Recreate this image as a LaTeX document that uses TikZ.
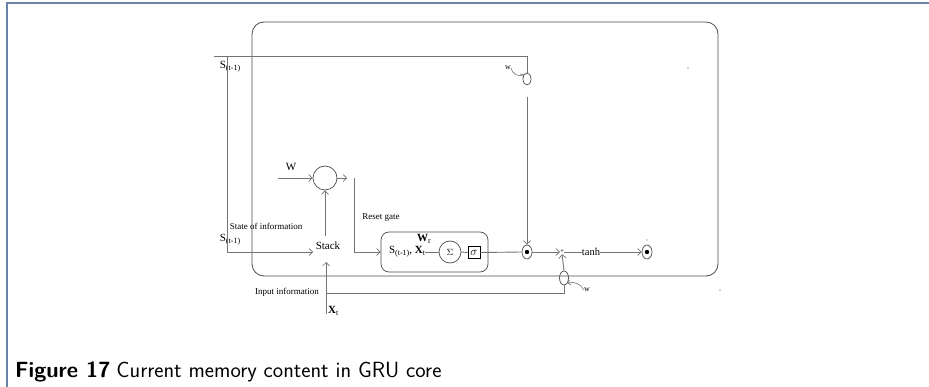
\documentclass[tikz,border=0pt]{standalone}
\usepackage{fontspec}
\setmainfont{Liberation Serif}
\usetikzlibrary{arrows,arrows.meta,shapes.geometric}
\newcommand{\lowsub}[1]{\raisebox{-0.35ex}{\fontsize{8}{9}\selectfont #1}}

\begin{document}
\begin{tikzpicture}[x=1pt,y=-1pt]
\tikzstyle{wire}=[draw=black!55,line width=0.9pt]
\tikzstyle{arr}=[wire,-{Straight Barb[length=3.5pt,width=7pt,line width=0.7pt]}]
\tikzstyle{txt}=[inner sep=0pt,font=\fontsize{9}{10}\selectfont]
\tikzstyle{big}=[inner sep=0pt,font=\fontsize{11}{12}\selectfont]
\tikzstyle{oval}=[ellipse,draw=black!70,line width=0.7pt,inner sep=0pt]
\useasboundingbox (0,0) rectangle (929,387);
% figure frame
\draw[draw={rgb,255:red,105;green,130;blue,165},line width=2pt] (7,387) -- (7,3) -- (929,3);
% GRU core
\draw[draw=black!70,line width=0.8pt,rounded corners=12pt] (252,22) rectangle (718,276);
% nodes
\node[big] (s1) at (230,67) {S\lowsub{(t-1)}};
\node[big] (s2) at (230,240) {S\lowsub{(t-1)}};
\node[txt] (state) at (266,226) {State of information};
\node[big] (stack) at (328,246) {Stack};
\node[circle,draw=black!70,line width=0.7pt,minimum size=24pt,inner sep=0pt] (gate) at (325,178) {};
\node[big] (w0) at (291,167) {W};
\node[txt] (reset) at (381,218) {Reset gate};
\node[draw=black!70,line width=0.7pt,rounded corners=8pt,minimum width=107pt,minimum height=40pt] (box) at (434.5,252) {};
\node[big] (tx) at (407,252) {S\lowsub{(t-1)}, \textbf{X}\lowsub{t}};
\node[big] (wr) at (424,239) {\textbf{W}\lowsub{r}};
\node[circle,draw=black!70,line width=0.7pt,minimum size=22pt,inner sep=0pt,font=\fontsize{9}{10}\selectfont] (sum) at (450,252) {$\Sigma$};
\node[draw=black,line width=0.9pt,minimum size=12pt,inner sep=0pt,font=\fontsize{13}{13}\selectfont] (sig) at (474,252.5) {$\sigma$};
\node[oval,minimum width=10pt,minimum height=14pt] (m1) at (527,252) {};
\node[inner sep=0pt,font=\fontsize{7}{8}\selectfont] (pl) at (562,252) {+};
\node[big,font=\fontsize{10.5}{12}\selectfont] (th) at (591,252) {tanh};
\node[oval,minimum width=10pt,minimum height=14pt] (m2) at (647,252) {};
\node[oval,minimum width=8pt,minimum height=12pt] (e1) at (527,79) {};
\node[txt,font=\fontsize{8}{9}\selectfont] (w1) at (508,68) {w};
\node[oval,minimum width=9pt,minimum height=14pt] (e2) at (564,278) {};
\node[txt,font=\fontsize{8}{9}\selectfont] (w2) at (587,290) {w};
\node[big,anchor=west] (xt) at (328,311) {\textbf{X}\lowsub{t}};
\node[txt] (input) at (287,292) {Input information};
\fill[black] (m1) circle (2.2);
\fill[black] (m2) circle (2.2);
% coordinates
\coordinate (tl) at (214,56);
\coordinate (tr) at (527,56);
\coordinate (c1) at (527,97);
\coordinate (lv) at (227,56);
\coordinate (sin) at (313,252);
\coordinate (wa) at (278,178);
\coordinate (go) at (347,178);
\coordinate (rs) at (354,178);
\coordinate (xb) at (326,314);
\coordinate (xtop) at (326,262);
\coordinate (xi) at (326,293);
% connectors
\draw[wire] (tl) -- (tr) -- (e1.north);
\draw[arr] (c1) -- (m1.north);
\draw[arr] (lv) |- (sin);
\draw[arr] ([xshift=-3pt,yshift=6pt]stack.north) -- (gate.south);
\draw[arr] (wa) -- (gate.west);
\draw[arr] (gate.east) -- (go);
\draw[arr] (rs) |- (box.west);
\draw[wire] (tx.east) -- (sum.west);
\draw[wire] (sum.east) -- (sig.west);
\draw[wire] (sig.east) -- (m1.west);
\draw[arr] (m1.east) -- (pl.west);
\draw[wire] (pl.east) -- (th.west);
\draw[arr] (th.east) -- (m2.west);
\draw[arr] (xb) -- (xtop);
\draw[wire] (xi) -| (e2.south);
\draw[arr] (e2.north) -- (pl.south);
\draw[wire,line width=0.6pt,-{Straight Barb[length=2.5pt,width=5pt]}] (w1.east) to[bend right=60] (e1.north west);
\draw[wire,line width=0.6pt,-{Straight Barb[length=2.5pt,width=5pt]}] (w2.west) to[bend right=40] (e2.south east);
% stray marks
\fill[black!70] (688,68) circle (0.7);
\fill[black!70] (720,290) circle (0.7);
\fill[black!70] (647,240) circle (0.7);
% caption
\node[anchor=base west,inner sep=0pt,font=\fontsize{22}{26}\selectfont\sffamily] (cap) at (15,377) {\textbf{Figure 17}\hspace{6pt}Current memory content in GRU core};
\end{tikzpicture}
\end{document}
